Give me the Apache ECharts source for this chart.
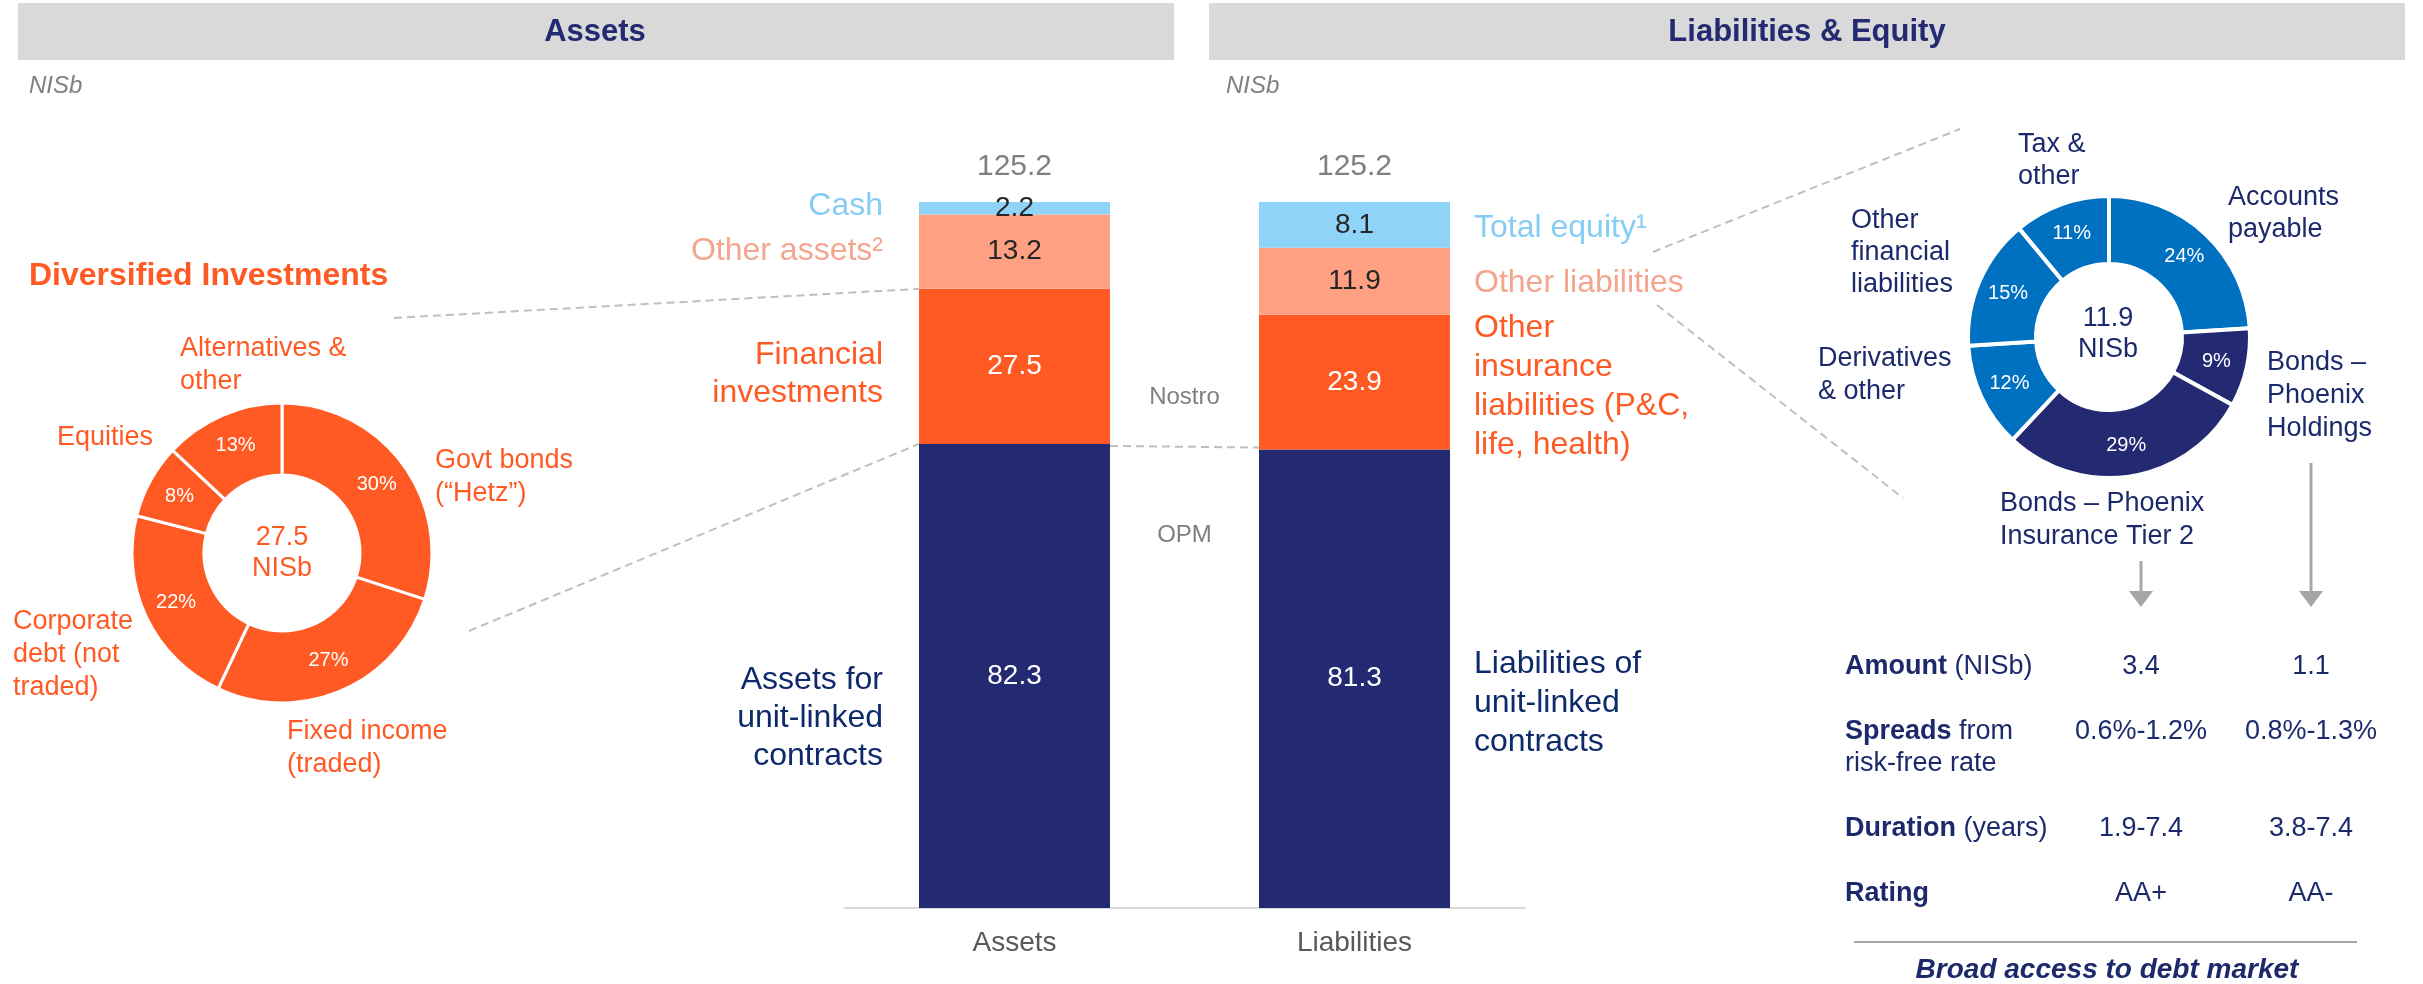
<!DOCTYPE html>
<html><head><meta charset="utf-8">
<script src="https://cdn.jsdelivr.net/npm/echarts@6/dist/echarts.min.js"></script>
<style>html,body{margin:0;padding:0;background:#fff}#c{width:2423px;height:984px}</style>
</head><body><div id="c"></div>
<script>
// ---------- DATA ----------
const categories = ['Assets', 'Liabilities'];
const unitLinked = [82.3, 81.3];          // Assets for / Liabilities of unit-linked contracts
const financialInsurance = [27.5, 23.9];  // Financial investments / Other insurance liabilities
const otherItems = [13.2, 11.9];          // Other assets / Other liabilities
const topItems = [2.2, 8.1];              // Cash / Total equity
const totals = [125.2, 125.2];

const investNames = ['Govt bonds', 'Fixed income (traded)', 'Corporate debt (not traded)', 'Equities', 'Alternatives & other'];
const investShares = [30, 27, 22, 8, 13];
const investTotal = '27.5';

const otherLiabNames = ['Accounts payable', 'Bonds – Phoenix Holdings', 'Bonds – Phoenix Insurance Tier 2', 'Derivatives & other', 'Other financial liabilities', 'Tax & other'];
const otherLiabShares = [24, 9, 29, 12, 15, 11];
const otherLiabTotal = '11.9';

const rowBold = ['Amount', 'Spreads', 'Duration', 'Rating'];
const rowRest = [' (NISb)', ' from\nrisk-free rate', ' (years)', ''];
const tier2Bond = ['3.4', '0.6%-1.2%', '1.9-7.4', 'AA+'];
const holdingsBond = ['1.1', '0.8%-1.3%', '3.8-7.4', 'AA-'];

// ---------- STYLE ----------
const FONT = '"Liberation Sans", Arial, Helvetica, sans-serif';
const NAVY = '#232a72', ORANGE = '#ff5a24', SALMON = '#ffa083', LBLUE = '#8fd3f9', BLUE = '#0070c0';
const TXTNAVY = '#1c2a6c';
const layerColors = [NAVY, ORANGE, SALMON, LBLUE];
const layerText = ['#ffffff', '#ffffff', '#262626', '#262626'];
const layers = [unitLinked, financialInsurance, otherItems, topItems];
const rightPieColors = [BLUE, NAVY, NAVY, BLUE, BLUE, BLUE];

const chart = echarts.init(document.getElementById('c'), null, {renderer: 'canvas'});

const barSeries = layers.map((d, i) => ({
  type: 'bar', stack: 'bs', barWidth: 191, data: d, silent: true,
  itemStyle: {color: layerColors[i]},
  label: {show: true, position: 'inside', color: layerText[i], fontSize: 28, fontFamily: FONT,
          formatter: p => p.value.toFixed(1)}
}));

const pieLeft = {
  type: 'pie', center: [282, 553], radius: [78, 150], startAngle: 90, clockwise: true,
  silent: true, avoidLabelOverlap: false,
  data: investNames.map((n, i) => ({name: n, value: investShares[i]})),
  itemStyle: {color: ORANGE, borderColor: '#fff', borderWidth: 3},
  label: {show: true, position: 'inside', formatter: '{c}%', color: '#fff', fontSize: 20, fontFamily: FONT},
  labelLine: {show: false}
};
const pieRight = {
  type: 'pie', center: [2109, 337], radius: [73, 141], startAngle: 90, clockwise: true,
  silent: true, avoidLabelOverlap: false,
  data: otherLiabNames.map((n, i) => ({name: n, value: otherLiabShares[i], itemStyle: {color: rightPieColors[i]}})),
  itemStyle: {borderColor: '#fff', borderWidth: 4},
  label: {show: true, position: 'inside', formatter: '{c}%', color: '#fff', fontSize: 20, fontFamily: FONT},
  labelLine: {show: false}
};

chart.setOption({
  animation: false,
  grid: {left: 844.5, top: 202, width: 680, height: 706},
  xAxis: {type: 'category', data: categories,
    axisLine: {lineStyle: {color: '#d9d9d9', width: 2}}, axisTick: {show: false},
    axisLabel: {color: '#595959', fontSize: 28, fontFamily: FONT, margin: 21}},
  yAxis: {type: 'value', min: 0, max: 125.2, show: false, splitLine: {show: false}},
  series: barSeries.concat([pieLeft, pieRight])
});

// ---------- ANNOTATIONS ----------
const px = (ci, v) => chart.convertToPixel({xAxisIndex: 0, yAxisIndex: 0}, [ci, v]);
const HALF = 95.5;
const g = [];
function txt(text, x, y, o) {
  o = o || {};
  g.push({type: 'text', silent: true, z: 10, style: Object.assign({
    text: text, x: x, y: y, fill: o.fill || TXTNAVY, fontSize: o.size || 27, fontFamily: FONT,
    fontWeight: o.weight || 'normal', fontStyle: o.style || 'normal',
    align: o.align || 'left', verticalAlign: 'middle', lineHeight: o.lh || 33
  }, o.extra || {})});
}
function dline(x1, y1, x2, y2) {
  g.push({type: 'line', silent: true, z: 1, shape: {x1, y1, x2, y2},
    style: {stroke: '#bfbfbf', lineWidth: 2, lineDash: [8, 5]}});
}

// headers
g.push({type: 'rect', silent: true, z: 0, shape: {x: 18, y: 3, width: 1156, height: 57}, style: {fill: '#d9d9d9'}});
g.push({type: 'rect', silent: true, z: 0, shape: {x: 1209, y: 3, width: 1196, height: 57}, style: {fill: '#d9d9d9'}});
txt('Assets', 595, 32, {weight: 'bold', size: 31, fill: '#232a72', align: 'center'});
txt('Liabilities & Equity', 1807, 32, {weight: 'bold', size: 31, fill: '#232a72', align: 'center'});
txt('NISb', 29, 86, {style: 'italic', size: 24, fill: '#808080'});
txt('NISb', 1226, 86, {style: 'italic', size: 24, fill: '#808080'});

// bar totals and side labels
const cumA = [0], cumL = [0];
layers.forEach((d, i) => { cumA.push(cumA[i] + d[0]); cumL.push(cumL[i] + d[1]); });
const midA = i => px(0, (cumA[i] + cumA[i + 1]) / 2)[1];
const midL = i => px(1, (cumL[i] + cumL[i + 1]) / 2)[1];
const aX = px(0, 0)[0], lX = px(1, 0)[0];
txt(totals[0].toFixed(1), aX, px(0, totals[0])[1] - 35, {fill: '#7f7f7f', size: 30, align: 'center'});
txt(totals[1].toFixed(1), lX, px(1, totals[1])[1] - 35, {fill: '#7f7f7f', size: 30, align: 'center'});

const aLabX = aX - HALF - 36, lLabX = lX + HALF + 24;
txt('Cash', aLabX, midA(3) - 2, {fill: '#86cdf6', size: 32, align: 'right'});
txt('Other assets²', aLabX, midA(2), {fill: '#f4a58e', size: 32, align: 'right'});
txt('Financial\ninvestments', aLabX, midA(1) + 8, {fill: ORANGE, size: 32, align: 'right', lh: 38});
txt('Assets for\nunit-linked\ncontracts', aLabX, midA(0) + 42, {fill: '#0f2a6b', size: 32, align: 'right', lh: 38});

txt('Total equity¹', lLabX, midL(3) + 3, {fill: '#86cdf6', size: 32});
txt('Other liabilities', lLabX, midL(2) + 2, {fill: '#f4a58e', size: 32});
txt('Other\ninsurance\nliabilities (P&C,\nlife, health)', lLabX, midL(1) + 5, {fill: ORANGE, size: 32, lh: 39});
txt('Liabilities of\nunit-linked\ncontracts', lLabX, midL(0) + 24, {fill: '#0f2a6b', size: 32, lh: 39});

const midX = (aX + HALF + lX - HALF) / 2;
txt('Nostro', midX, 397, {fill: '#7f7f7f', size: 24, align: 'center'});
txt('OPM', midX, 535, {fill: '#7f7f7f', size: 24, align: 'center'});

// connector dashed lines
const yFin = px(0, cumA[2])[1], yUL = px(0, cumA[1])[1], yULL = px(1, cumL[1])[1];
dline(394, 318, aX - HALF, yFin);
dline(469, 631, aX - HALF, yUL);
dline(aX + HALF, yUL + 2, lX - HALF, yULL - 2);
dline(1653, 252, 1960, 129);
dline(1657, 305, 1903, 498);

// left donut labels
txt('Diversified Investments', 29, 276, {fill: ORANGE, weight: 'bold', size: 32});
txt('Alternatives &\nother', 180, 365, {fill: ORANGE});
txt('Equities', 57, 438, {fill: ORANGE});
txt('Govt bonds\n(“Hetz”)', 435, 477, {fill: ORANGE});
txt('Corporate\ndebt (not\ntraded)', 13, 655, {fill: ORANGE});
txt('Fixed income\n(traded)', 287, 748, {fill: ORANGE});
txt(investTotal + '\nNISb', 282, 553, {fill: ORANGE, size: 27, align: 'center', lh: 31});

// right donut labels
txt('Tax &\nother', 2018, 161, {lh: 32});
txt('Accounts\npayable', 2228, 214, {lh: 32});
txt('Other\nfinancial\nliabilities', 1851, 253, {lh: 32});
txt('Derivatives\n& other', 1818, 375, {lh: 33});
txt('Bonds –\nPhoenix\nHoldings', 2267, 396, {lh: 33});
txt('Bonds – Phoenix\nInsurance Tier 2', 2000, 520, {lh: 33});
txt(otherLiabTotal + '\nNISb', 2108, 334, {size: 27, align: 'center', lh: 31});

// arrows
function arrow(x, y1, y2) {
  g.push({type: 'line', silent: true, shape: {x1: x, y1: y1, x2: x, y2: y2 - 4}, style: {stroke: '#a6a6a6', lineWidth: 3}});
  g.push({type: 'polygon', silent: true, shape: {points: [[x - 12, y2 - 16], [x + 12, y2 - 16], [x, y2]]}, style: {fill: '#a6a6a6'}});
}
const col1X = 2141, col2X = 2311;
arrow(col1X, 561, 607);
arrow(col2X, 463, 607);

// table
const rowY = [667, 732, 829, 894];
const rich = {
  b: {fontFamily: FONT, fontSize: 27, fontWeight: 'bold', fill: TXTNAVY, lineHeight: 32},
  r: {fontFamily: FONT, fontSize: 27, fill: TXTNAVY, lineHeight: 32}
};
rowBold.forEach((b, i) => {
  const rest = rowRest[i].split('\n');
  let t = '{b|' + b + '}' + (rest[0] ? '{r|' + rest[0] + '}' : '');
  for (let k = 1; k < rest.length; k++) t += '\n{r|' + rest[k] + '}';
  g.push({type: 'text', silent: true, style: {text: t, x: 1845, y: rowY[i] - 16, verticalAlign: 'top', align: 'left', rich: rich,
    fontFamily: FONT, fontSize: 27, fill: TXTNAVY}});
  txt(tier2Bond[i], col1X, rowY[i], {align: 'center'});
  txt(holdingsBond[i], col2X, rowY[i], {align: 'center'});
});
g.push({type: 'line', silent: true, shape: {x1: 1854, y1: 942, x2: 2357, y2: 942}, style: {stroke: '#a6a6a6', lineWidth: 2}});
txt('Broad access to debt market', 2107, 970, {weight: 'bold', style: 'italic', size: 28, align: 'center'});

chart.setOption({graphic: g});
</script>
</body></html>
